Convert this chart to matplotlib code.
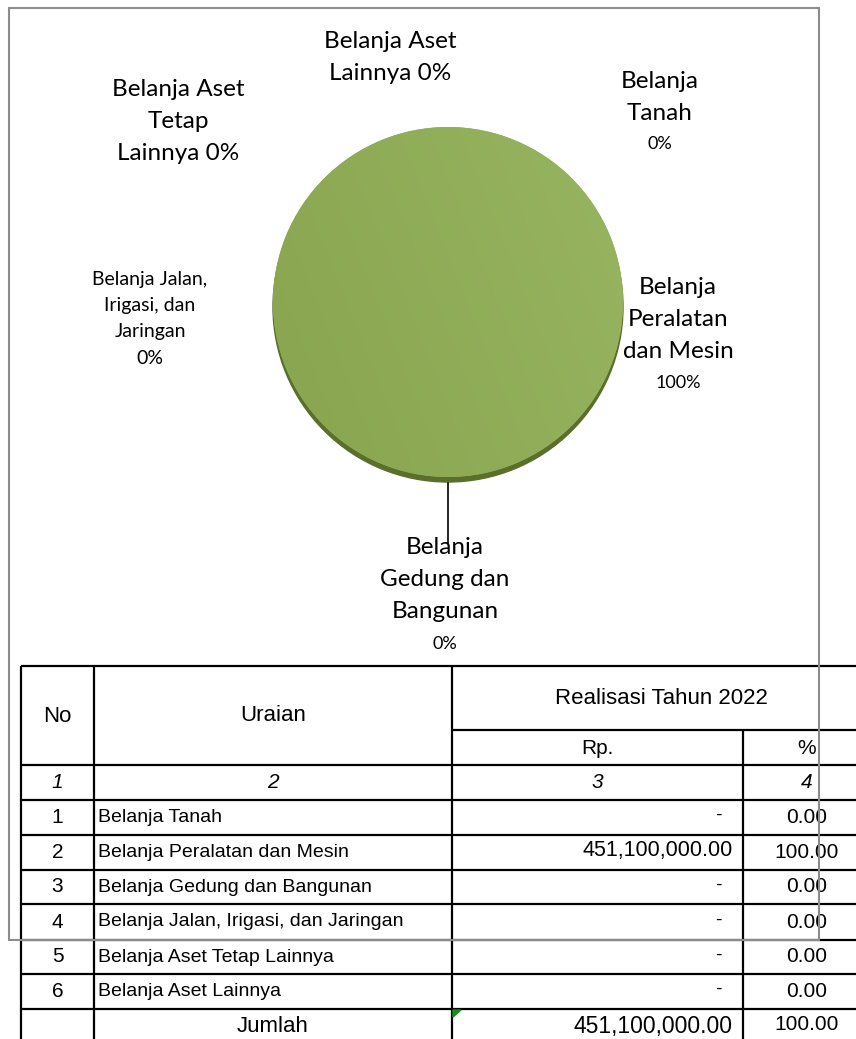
import matplotlib
matplotlib.use("Agg")
import matplotlib.pyplot as plt
import numpy as np
from matplotlib.patches import Rectangle, Polygon

# data
categories = [
    "Belanja Tanah",
    "Belanja Peralatan dan Mesin",
    "Belanja Gedung dan Bangunan",
    "Belanja Jalan, Irigasi, dan Jaringan",
    "Belanja Aset Tetap Lainnya",
    "Belanja Aset Lainnya",
]
realisasi = [0, 451100000, 0, 0, 0, 0]
# how Excel wrapped each pie label (the percentage is added to the last entry)
label_wrap = [
    ["Belanja", "Tanah", ""],
    ["Belanja", "Peralatan", "dan Mesin", ""],
    ["Belanja", "Gedung dan", "Bangunan", ""],
    ["Belanja Jalan,", "Irigasi, dan", "Jaringan", ""],
    ["Belanja Aset", "Tetap", "Lainnya "],
    ["Belanja Aset", "Lainnya "],
]
header_cols = ["No", "Uraian", "Realisasi Tahun 2022", "Rp.", "%"]
col_numbers = ["1", "2", "3", "4"]
total_label = "Jumlah"

total = sum(realisasi)
pct = [v / total * 100 for v in realisasi]

# layout (pixel space)
W, H = 856, 1039
pie_center = (448, 302)
pie_radius = 175
label_pos = [(660, 82), (678, 287), (445, 548), (150, 280), (178, 89), (390, 42)]
label_pitch = [31, 32, 32, 26, 32, 31]
label_size = [17.5, 17.5, 17.5, 14, 17.5, 17.5]

CAL = ["Lato", "DejaVu Sans"]
TBL = ["Liberation Sans", "DejaVu Sans"]

fig = plt.figure(figsize=(W / 100, H / 100), dpi=100)
ax = fig.add_axes([0, 0, 1, 1])

# pie with 3d-ish rim
rim = plt.Circle((pie_center[0], pie_center[1] + 5), pie_radius, color="#5b6f2c", zorder=1)
ax.add_patch(rim)
wedges, _ = ax.pie(realisasi, colors=["#93af5a"] * len(realisasi), center=pie_center,
                   radius=pie_radius, startangle=90, counterclock=False,
                   wedgeprops=dict(linewidth=0, zorder=2))
big = wedges[int(np.argmax(realisasi))]
gy, gx = np.mgrid[0:1:200j, 0:1:200j]
shade = 0.55 + 0.25 * gx - 0.1 * gy
cmap = matplotlib.colors.LinearSegmentedColormap.from_list("g", ["#86a24c", "#9cb966"])
im = ax.imshow(shade, cmap=cmap, vmin=0.4, vmax=0.9,
               extent=(pie_center[0] - pie_radius, pie_center[0] + pie_radius,
                       pie_center[1] + pie_radius, pie_center[1] - pie_radius),
               zorder=3, interpolation="bilinear")
im.set_clip_path(big)

# leader line for the bottom label
ax.plot([448, 448], [483, 543], color="black", lw=1.2, zorder=4)

# pie labels
for i, lines in enumerate(label_wrap):
    x0, y0 = label_pos[i]
    p = "%d%%" % round(pct[i])
    for k, line in enumerate(lines):
        if k == len(lines) - 1:
            if line == "":
                txt, fs = p, (13 if label_size[i] > 15 else label_size[i])
            else:
                txt, fs = line + p, label_size[i]
        else:
            txt, fs = line, label_size[i]
        ax.text(x0, y0 + k * label_pitch[i], txt, ha="center", va="center",
                fontsize=fs, family=CAL, color="black", zorder=6)

# table grid
lc = "black"
lw = 1.6
x_cols = [21, 94, 452, 743, 870]
y_top, y_sub, y_head = 666, 730, 765
row_lines = [800, 835, 870, 904, 940, 974, 1009, 1045]
ax.hlines(y_top, x_cols[0], x_cols[-1], color=lc, lw=lw, zorder=5)
ax.hlines(y_sub, x_cols[2], x_cols[-1], color=lc, lw=lw, zorder=5)
ax.hlines([y_head] + row_lines, x_cols[0], x_cols[-1], color=lc, lw=lw, zorder=5)
for j, xc in enumerate(x_cols):
    top = y_sub if j == 3 else y_top
    ax.vlines(xc, top, row_lines[-1], color=lc, lw=lw, zorder=5)

ts = 14
hs = 16
ax.text((x_cols[0] + x_cols[1]) / 2, (y_top + y_head) / 2 + 1, header_cols[0], ha="center", va="center", fontsize=hs, family=TBL)
ax.text((x_cols[1] + x_cols[2]) / 2, (y_top + y_head) / 2, header_cols[1], ha="center", va="center", fontsize=hs, family=TBL)
ax.text((x_cols[2] + x_cols[4]) / 2, (y_top + y_sub) / 2, header_cols[2], ha="center", va="center", fontsize=hs, family=TBL)
ax.text((x_cols[2] + x_cols[3]) / 2, (y_sub + y_head) / 2 + 1, header_cols[3], ha="center", va="center", fontsize=hs - 1, family=TBL)
ax.text((x_cols[3] + x_cols[4]) / 2, (y_sub + y_head) / 2 + 1, header_cols[4], ha="center", va="center", fontsize=hs - 1, family=TBL)
for j, s in enumerate(col_numbers):
    ax.text((x_cols[j] + x_cols[j + 1]) / 2, (y_head + row_lines[0]) / 2, s, ha="center", va="center",
            fontsize=ts + 1, family=TBL, style="italic")

for i, name in enumerate(categories):
    yc = (row_lines[i] + row_lines[i + 1]) / 2
    ax.text((x_cols[0] + x_cols[1]) / 2, yc, str(i + 1), ha="center", va="center", fontsize=ts + 1, family=TBL)
    ax.text(x_cols[1] + 4, yc, name, ha="left", va="center", fontsize=ts, family=TBL)
    if realisasi[i]:
        ax.text(x_cols[3] - 10, yc - 2, "{:,.2f}".format(realisasi[i]), ha="right", va="center",
                fontsize=15.5, family=TBL)
    else:
        ax.text(x_cols[3] - 21, yc - 2, "-", ha="right", va="center", fontsize=ts, family=TBL)
    ax.text((x_cols[3] + x_cols[4]) / 2, yc, "{:.2f}".format(pct[i]), ha="center", va="center",
            fontsize=15, family=TBL)

yc = (row_lines[6] + row_lines[7]) / 2 - 1
ax.text((x_cols[1] + x_cols[2]) / 2, yc, total_label, ha="center", va="center", fontsize=hs, family=TBL)
ax.text(x_cols[3] - 10, yc, "{:,.2f}".format(total), ha="right", va="center", fontsize=16.5, family=TBL)
ax.text((x_cols[3] + x_cols[4]) / 2, yc - 1, "{:.2f}".format(sum(pct)), ha="center", va="center",
        fontsize=15, family=TBL)
ax.add_patch(Polygon([[453, 1010], [461, 1010], [453, 1017]], closed=True, color="#1a8a1a", zorder=6))

# chart area border (drawn over the table)
ax.add_patch(Rectangle((9, 8), 810, 932, fill=False, edgecolor="#8c8c8c", lw=1.5, zorder=7))

ax.set_xlim(0, W)
ax.set_ylim(H, 0)
ax.set_aspect("auto")
ax.axis("off")
fig.savefig("out.png", dpi=100, facecolor="white")
